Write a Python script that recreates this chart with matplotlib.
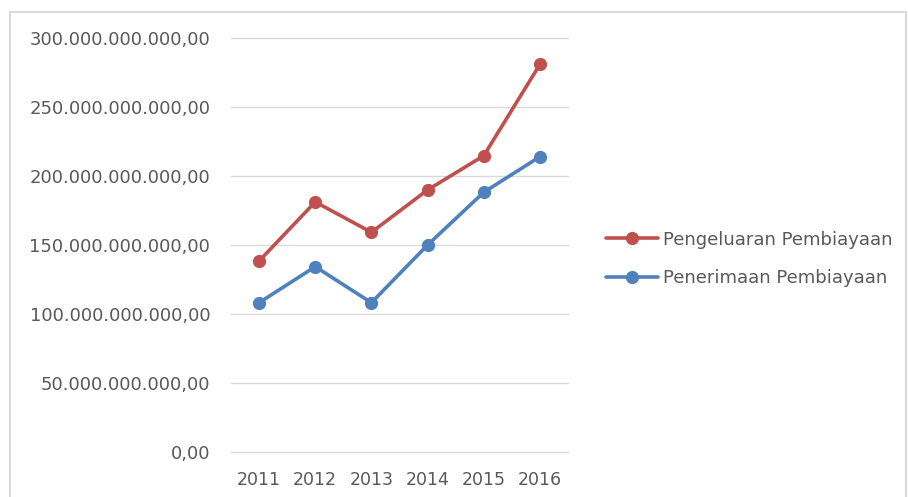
import matplotlib
matplotlib.use('Agg')
from matplotlib import pyplot as plt
from matplotlib.ticker import FuncFormatter, MultipleLocator
from matplotlib.patches import Rectangle

plt.rcParams['font.family'] = ['DejaVu Sans']

years = ['2011', '2012', '2013', '2014', '2015', '2016']
pengeluaran = [138.4e9, 181.2e9, 159.2e9, 189.9e9, 214.7e9, 280.9e9]
penerimaan = [108.2e9, 134.3e9, 108.2e9, 150.0e9, 188.2e9, 214.0e9]

red = '#C0504D'
blue = '#4F81BD'
grey = '#595959'


def rupiah(v, pos):
    s = '{:,.2f}'.format(v)
    return s.replace(',', 'X').replace('.', ',').replace('X', '.')


W, H = 908, 497
fig = plt.figure(figsize=(W / 100, H / 100), dpi=100)
ax = fig.add_axes([231 / W, (H - 452) / H, (568 - 231) / W, (452 - 38) / H])

x = range(len(years))
ax.plot(x, pengeluaran, color=red, lw=2.6, marker='o', ms=8.5,
        label='Pengeluaran Pembiayaan', solid_capstyle='round')
ax.plot(x, penerimaan, color=blue, lw=2.6, marker='o', ms=8.5,
        label='Penerimaan Pembiayaan', solid_capstyle='round')

ax.set_xlim(-0.5, len(years) - 0.5)
ax.set_ylim(0, 300e9)
ax.yaxis.set_major_locator(MultipleLocator(50e9))
ax.yaxis.set_major_formatter(FuncFormatter(rupiah))
ax.set_xticks(list(x))
ax.set_xticklabels(years)
ax.grid(axis='y', color='#D9D9D9', lw=1)
for g in ax.get_ygridlines():
    g.set_clip_on(False)
ax.set_axisbelow(True)
for s in ax.spines.values():
    s.set_visible(False)
ax.tick_params(axis='y', length=0, pad=15, labelsize=13, labelcolor=grey)
ax.tick_params(axis='x', length=0, pad=14, labelsize=12.5, labelcolor=grey)

leg = fig.legend(loc='center left', bbox_to_anchor=(597 / W, (H - 259) / H),
                 frameon=False, fontsize=13, handlelength=2.9,
                 handletextpad=0.25, labelspacing=1.15, borderpad=0)
for t in leg.get_texts():
    t.set_color(grey)

# outer chart border (cropped at the bottom)
fig.patches.append(Rectangle((10 / W, -0.05), (906 - 10) / W, (H - 12) / H + 0.05,
                             transform=fig.transFigure, fill=False,
                             edgecolor='#D9D9D9', lw=1.5))

fig.savefig('out.png', dpi=100)
